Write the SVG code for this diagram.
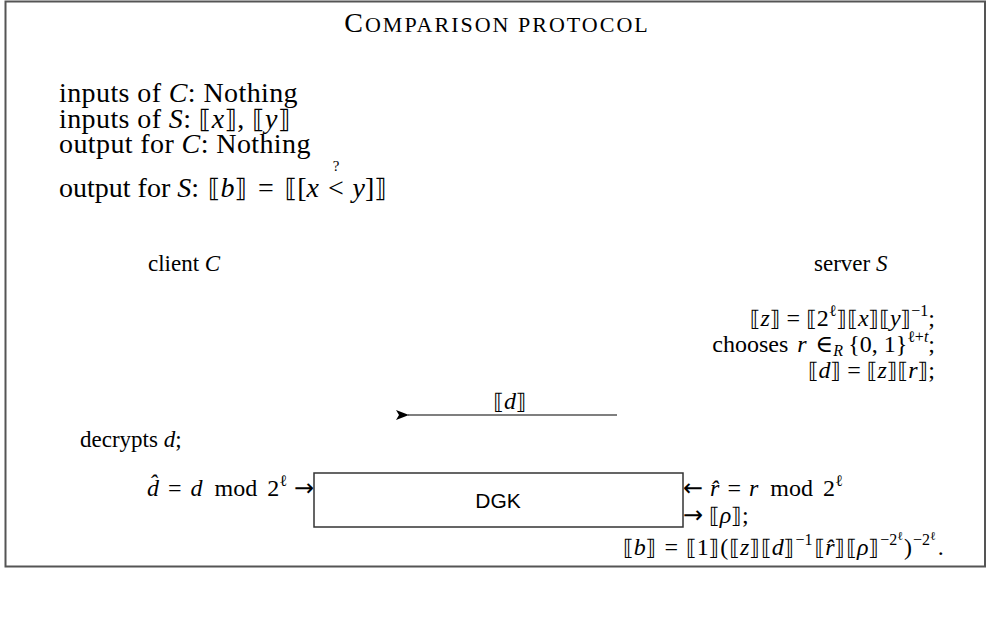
<svg xmlns="http://www.w3.org/2000/svg" width="990" height="618" viewBox="0 0 990 618">
<style>
.s{font-family:"Liberation Serif","DejaVu Serif",serif;fill:#000}
.L{font-size:28px}
.M{font-size:24px}
.C{font-size:23px}
.i{font-style:italic}
.b{font-family:"DejaVu Serif","DejaVu Sans",serif;font-style:normal;font-size:0.9em}
.ar{font-family:"DejaVu Sans",sans-serif;font-style:normal}
.sup{font-size:16px}
.ss{font-size:12px}
.sans{font-family:"Liberation Sans","DejaVu Sans",sans-serif;font-size:21px;fill:#000}
</style>
<defs>
<marker id="ah" markerWidth="13" markerHeight="10" refX="1" refY="5" orient="auto" markerUnits="userSpaceOnUse">
<path d="M13,0 L0,5 L13,10 L10,5 Z" fill="#000"/>
</marker>
</defs>
<rect x="5.5" y="1.5" width="979.5" height="565" fill="#fff" stroke="#555" stroke-width="2"/>
<text class="s" x="497" y="32" text-anchor="middle" letter-spacing="2"><tspan font-size="28">C</tspan><tspan font-size="22">OMPARISON PROTOCOL</tspan></text>
<g id="spec">
<text class="s L" x="59" y="102" letter-spacing="0.4">inputs of <tspan class="i">C</tspan>: Nothing</text>
<text class="s L" x="59" y="128" letter-spacing="0.4">inputs of <tspan class="i">S</tspan>:  <tspan class="b">⟦</tspan><tspan class="i">x</tspan><tspan class="b">⟧</tspan>, <tspan class="b">⟦</tspan><tspan class="i">y</tspan><tspan class="b">⟧</tspan></text>
<text class="s L" x="59" y="153" letter-spacing="0.4">output for <tspan class="i">C</tspan>: Nothing</text>
<text class="s L" x="59" y="197">output for <tspan class="i">S</tspan>:  <tspan dx="2" class="b">⟦</tspan><tspan class="i">b</tspan><tspan class="b">⟧</tspan> <tspan dx="4">=</tspan> <tspan dx="4" class="b">⟦</tspan>[<tspan class="i">x</tspan> <tspan dx="2">&lt;</tspan><tspan font-size="15" dx="-11" dy="-26">?</tspan><tspan dx="4" dy="26"> </tspan><tspan dx="2" class="i">y</tspan>]<tspan class="b">⟧</tspan></text>
</g>
<g id="client">
<text class="s C" x="148" y="271">client <tspan class="i">C</tspan></text>
<text class="s C" x="80" y="447">decrypts <tspan class="i">d</tspan>;</text>
<text class="s M" x="314" y="496" text-anchor="end"><tspan class="i">d̂</tspan><tspan dx="9">=</tspan><tspan dx="9" class="i">d</tspan><tspan dx="12">mod</tspan><tspan dx="10">2</tspan><tspan class="sup" dy="-10">ℓ</tspan><tspan dy="10" dx="7" class="ar">→</tspan></text>
</g>
<g id="server">
<text class="s C" x="814" y="271">server <tspan class="i">S</tspan></text>
<text class="s M" x="935" y="326" text-anchor="end"><tspan class="b">⟦</tspan><tspan class="i">z</tspan><tspan class="b">⟧</tspan> = <tspan class="b">⟦</tspan>2<tspan class="sup" dy="-10">ℓ</tspan><tspan dy="10" class="b">⟧⟦</tspan><tspan class="i">x</tspan><tspan class="b">⟧⟦</tspan><tspan class="i">y</tspan><tspan class="b">⟧</tspan><tspan class="sup" dy="-10">−1</tspan><tspan dy="10">;</tspan></text>
<text class="s M" x="935" y="352" text-anchor="end">chooses  <tspan class="i" dx="3">r</tspan>  <tspan dx="3">∈</tspan><tspan class="sup i" dy="4">R</tspan><tspan dy="-4" dx="5">{0, 1}</tspan><tspan class="sup" dy="-10">ℓ+<tspan class="i">t</tspan></tspan><tspan dy="10">;</tspan></text>
<text class="s M" x="935" y="378" text-anchor="end"><tspan class="b">⟦</tspan><tspan class="i">d</tspan><tspan class="b">⟧</tspan> = <tspan class="b">⟦</tspan><tspan class="i">z</tspan><tspan class="b">⟧⟦</tspan><tspan class="i">r</tspan><tspan class="b">⟧</tspan>;</text>
<text class="s M" x="683" y="496"><tspan class="ar">←</tspan><tspan dx="7" class="i">r̂</tspan><tspan dx="8">=</tspan><tspan dx="8" class="i">r</tspan><tspan dx="12">mod</tspan><tspan dx="10">2</tspan><tspan class="sup" dy="-10">ℓ</tspan></text>
<text class="s M" x="683" y="523"><tspan class="ar">→</tspan> <tspan class="b">⟦</tspan><tspan class="i">ρ</tspan><tspan class="b">⟧</tspan>;</text>
<text class="s M" x="623" y="555"><tspan class="b">⟦</tspan><tspan class="i">b</tspan><tspan class="b">⟧</tspan><tspan dx="8">=</tspan><tspan dx="8" class="b">⟦</tspan>1<tspan class="b">⟧</tspan><tspan dx="1">(</tspan><tspan dx="1" class="b">⟦</tspan><tspan class="i">z</tspan><tspan class="b">⟧</tspan><tspan dx="1" class="b">⟦</tspan><tspan class="i">d</tspan><tspan class="b">⟧</tspan><tspan class="sup" dy="-10" dx="1">−1</tspan><tspan dy="10" dx="2" class="b">⟦</tspan><tspan class="i">r̂</tspan><tspan class="b">⟧</tspan><tspan dx="1" class="b">⟦</tspan><tspan class="i">ρ</tspan><tspan class="b">⟧</tspan><tspan class="sup" dy="-10" dx="1">−2</tspan><tspan class="ss" dy="-5">ℓ</tspan><tspan dy="15" dx="1">)</tspan><tspan class="sup" dy="-10" dx="1">−2</tspan><tspan class="ss" dy="-5">ℓ</tspan><tspan dy="15" dx="2">.</tspan></text>
</g>
<g id="dgk">
<rect x="314" y="473" width="369" height="54" fill="#fff" stroke="#333" stroke-width="1.5"/>
<text class="sans" x="498" y="508" text-anchor="middle">DGK</text>
</g>
<g id="connectors">
<line x1="617" y1="415" x2="408" y2="415" stroke="#000" stroke-width="1.2" marker-end="url(#ah)"/>
<text class="s M" x="510" y="409" text-anchor="middle"><tspan class="b">⟦</tspan><tspan class="i">d</tspan><tspan class="b">⟧</tspan></text>
</g>
</svg>
